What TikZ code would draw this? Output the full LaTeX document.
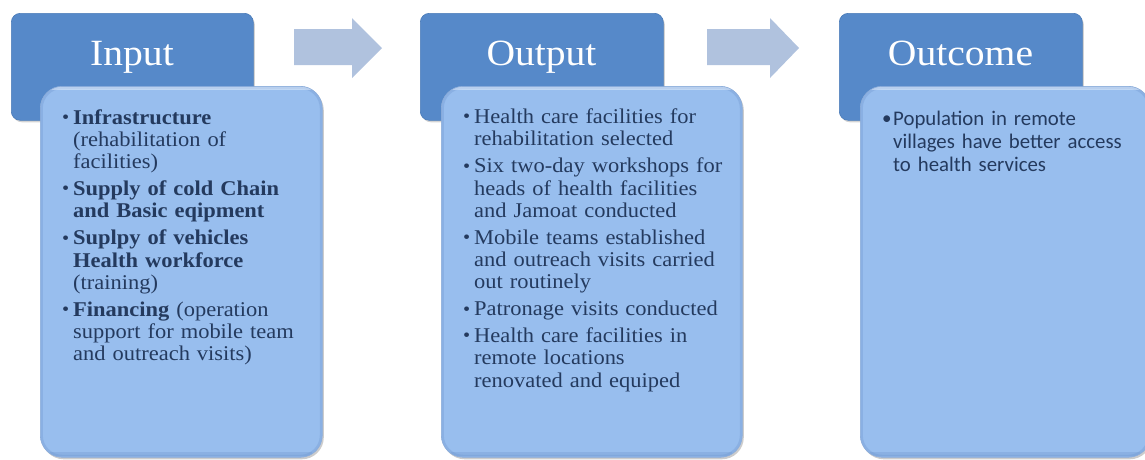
\documentclass[tikz,border=0pt]{standalone}
\usepackage{fontspec}
\setmainfont{Liberation Serif}[FakeStretch=1.07]
\newfontfamily\bodysans{Carlito}
\usetikzlibrary{shadows}

\definecolor{hdrblue}{HTML}{5689C9}
\definecolor{hdredge}{HTML}{4A7BB8}
\definecolor{bodyblue}{HTML}{98BEEE}
\definecolor{bodyedge}{HTML}{7098CF}
\definecolor{arrowblue}{HTML}{B0C2DE}
\definecolor{inktext}{HTML}{243A5E}

% forced line break that keeps the hanging indent of the item
\newcommand\lnbrk{\hfil\break}
\newcommand\bulletglyph{{\fontsize{19}{19}\selectfont\raisebox{0.6pt}{\textbullet}}}
% first item of a list, then the items after it
\newcommand\fitem{\hangindent=11pt\hangafter=1\noindent\makebox[11pt][l]{\bulletglyph}}
\newcommand\bitem{\par\fitem}

\tikzset{
  hdrbox/.style={draw=hdredge, line width=0.6pt, fill=hdrblue, rounded corners=9pt,
    anchor=north west, inner sep=0pt, minimum height=107pt,
    drop shadow={shadow xshift=1.5pt, shadow yshift=-2pt, opacity=0.35}},
  hdrlabel/.style={anchor=base, inner sep=0pt, text=white, font=\fontsize{37}{40}\selectfont},
  bodybox/.style={draw=bodyedge!80!white, line width=0.6pt, fill=bodyblue, rounded corners=22pt,
    anchor=north west, inner sep=0pt, minimum height=371pt,
    drop shadow={shadow xshift=1.5pt, shadow yshift=-2pt, opacity=0.4},
    path picture={
      \draw[bodyedge, opacity=0.35, line width=5pt, rounded corners=22pt]
        (path picture bounding box.north west) rectangle (path picture bounding box.south east);
      \draw[bodyedge, opacity=0.35, line width=4pt]
        ([xshift=10pt,yshift=3pt]path picture bounding box.south west) --
        ([xshift=-10pt,yshift=3pt]path picture bounding box.south east);
      \draw[white, opacity=0.4, line width=3pt, rounded corners=22pt]
        ([xshift=4pt,yshift=-2pt]path picture bounding box.north west) --
        ([xshift=-4pt,yshift=-2pt]path picture bounding box.north east);
    }},
  itemtext/.style={anchor=base west, inner sep=0pt, text width=270pt, text=inktext,
    font=\fontsize{21}{22.4}\selectfont},
  blockarrow/.style={fill=arrowblue}
}

\begin{document}
\begin{tikzpicture}[x=1pt, y=-1pt]
  \useasboundingbox (0,0) rectangle (1145,459);

  % block arrows between the stages
  \fill[blockarrow] (294,29) -- (352,29) -- (352,18) -- (382,48) -- (352,78) -- (352,65) -- (294,65) -- cycle;
  \fill[blockarrow] (707,29) -- (770,29) -- (770,18) -- (799,48) -- (770,78) -- (770,65) -- (707,65) -- cycle;

  % Input
  \node[hdrbox, minimum width=242pt] (inhdr) at (11,13) {};
  \node[hdrlabel] (inlbl) at (132,65) {Input};
  \node[bodybox, minimum width=282pt] (inbody) at (40,86) {};
  \node[itemtext] (intext) at (62,124) {\setlength{\parskip}{4.3pt}%
    \fitem\textbf{Infrastructure}\lnbrk (rehabilitation of\lnbrk facilities)
    \bitem\textbf{Supply of cold Chain\lnbrk and Basic eqipment}
    \bitem\textbf{Suplpy of vehicles\lnbrk Health workforce}\lnbrk (training)
    \bitem\textbf{Financing} (operation\lnbrk support for mobile team\lnbrk and outreach visits)\par};

  % Output
  \node[hdrbox, minimum width=243pt] (outhdr) at (420,13) {};
  \node[hdrlabel] (outlbl) at (541.5,65) {Output};
  \node[bodybox, minimum width=301pt] (outbody) at (441,86) {};
  \node[itemtext] (outtext) at (463,123.5) {\setlength{\parskip}{4.3pt}%
    \fitem Health care facilities for\lnbrk rehabilitation selected
    \bitem Six two-day workshops for\lnbrk heads of health facilities\lnbrk and Jamoat conducted
    \bitem Mobile teams established\lnbrk and outreach visits carried\lnbrk out routinely
    \bitem Patronage visits conducted
    \bitem Health care facilities in\lnbrk remote locations\lnbrk renovated and equiped\par};

  % Outcome
  \node[hdrbox, minimum width=243pt] (ochdr) at (839,13) {};
  \node[hdrlabel] (oclbl) at (960.5,65) {Outcome};
  \node[bodybox, minimum width=290pt] (ocbody) at (860,86) {};
  \node[itemtext, font=\bodysans\fontsize{20.8}{23}\selectfont] (octext) at (882,125) {%
    \fitem Population in remote\lnbrk villages have better access\lnbrk to health services\par};
\end{tikzpicture}
\end{document}
